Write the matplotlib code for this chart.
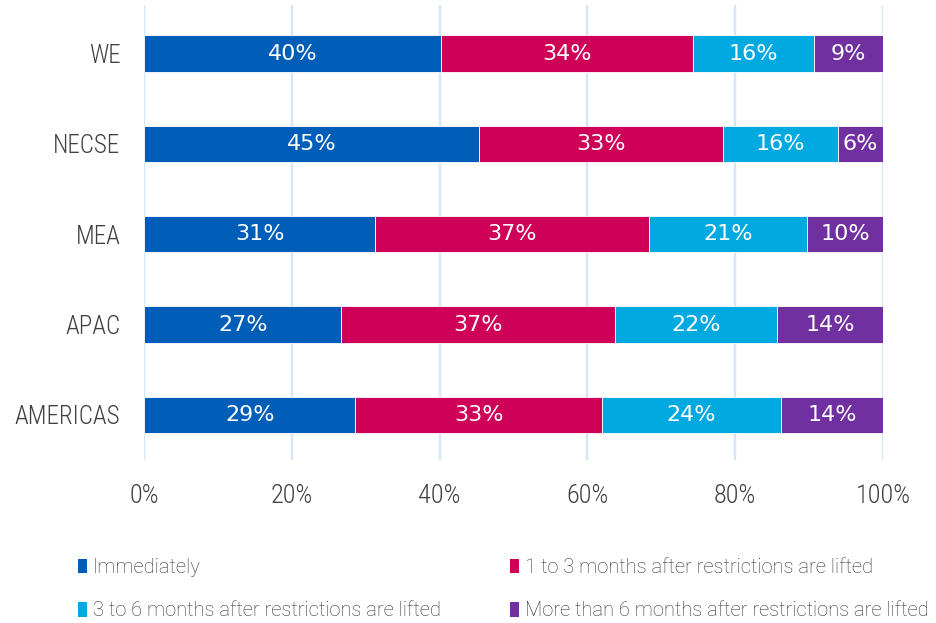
import matplotlib
matplotlib.use("Agg")
import matplotlib.pyplot as plt
from matplotlib.patches import Patch

# Regions (top to bottom) and share of respondents per timing category (%)
regions = ["WE", "NECSE", "MEA", "APAC", "AMERICAS"]
immediately = [40.2, 45.3, 31.3, 26.7, 28.6]
one_to_three = [34.1, 33.0, 37.1, 37.0, 33.4]
three_to_six = [16.3, 15.6, 21.3, 22.0, 24.2]
more_than_six = [9.4, 6.1, 10.3, 14.3, 13.8]

series_names = [
    "Immediately",
    "1 to 3 months after restrictions are lifted",
    "3 to 6 months after restrictions are lifted",
    "More than 6 months after restrictions are lifted",
]
series_values = [immediately, one_to_three, three_to_six, more_than_six]
colors = ["#005EB8", "#CE0058", "#00A9E0", "#7030A0"]
x_ticks = [0, 20, 40, 60, 80, 100]
x_tick_labels = ["0%", "20%", "40%", "60%", "80%", "100%"]

label_font = ["Roboto Condensed", "DejaVu Sans"]
legend_font = ["Roboto", "DejaVu Sans"]
value_font = ["DejaVu Sans"]
plt.rcParams["font.family"] = label_font
plt.rcParams["font.weight"] = "light"

text_color = "#404040"

fig = plt.figure(figsize=(9.37, 6.23), dpi=100)
ax = fig.add_axes([144 / 937, 1 - 460 / 623, 739 / 937, 455 / 623])

y = list(range(len(regions)))
left = [0.0] * len(regions)
for name, vals, col in zip(series_names, series_values, colors):
    bars = ax.barh(y, vals, left=left, height=0.4, color=col, edgecolor="white",
                   linewidth=0.6, label=name, zorder=3)
    for rect, v in zip(bars, vals):
        ax.text(rect.get_x() + rect.get_width() / 2, rect.get_y() + rect.get_height() / 2,
                f"{v:.0f}%", ha="center", va="center", color="white", fontsize=16,
                family=value_font, fontweight="normal", zorder=4)
    left = [l + v for l, v in zip(left, vals)]

ax.set_xlim(0, 100)
ax.set_ylim(len(regions) - 0.5, -0.537)
ax.set_yticks(y)
ax.set_yticklabels(regions)
ax.set_xticks(x_ticks)
ax.set_xticklabels(x_tick_labels)
ax.tick_params(axis="y", length=0, pad=17, labelsize=18, labelcolor=text_color)
ax.tick_params(axis="x", length=0, pad=17, labelsize=19, labelcolor=text_color)
ax.grid(axis="x", color="#D4E6F9", linewidth=1.7, zorder=0)
ax.set_axisbelow(True)
for s in ax.spines.values():
    s.set_visible(False)

# Legend: two columns, filled column by column
order = [0, 2, 1, 3]
handles = [Patch(facecolor=colors[i], edgecolor="none") for i in order]
labels = [series_names[i] for i in order]
fig.legend(handles, labels, ncol=2, loc="upper left",
           bbox_to_anchor=(78 / 937, 1 - 558 / 623), frameon=False,
           prop={"family": legend_font, "weight": "light", "size": 14.5},
           labelcolor="#333333", handlelength=0.45, handleheight=0.75,
           handletextpad=0.3, columnspacing=3.4, labelspacing=1.2,
           borderaxespad=0, borderpad=0)

fig.savefig("out.png", dpi=100)
